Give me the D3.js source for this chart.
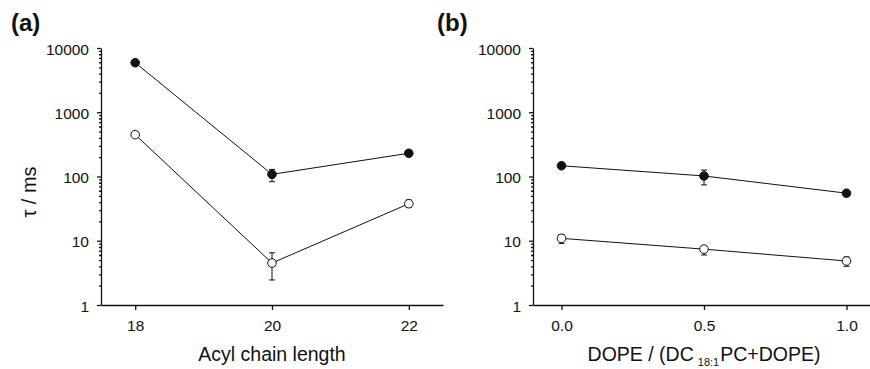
<!DOCTYPE html>
<html>
<head>
<meta charset="utf-8">
<script src="https://cdn.jsdelivr.net/npm/d3@7"></script>
<style>
  body { margin: 0; background: #fff; }
  svg text { font-family: "Liberation Sans", Arial, Helvetica, sans-serif; fill: #111; }
</style>
</head>
<body>
<svg id="chart" width="870" height="369"></svg>
<script>
// panel (a): acyl chain length
const chainLength = [18, 20, 22];
const chainFilled = [5900, 108, 230];
const chainFilledLo = [5500, 83, 215];
const chainFilledHi = [6300, 129, 245];
const chainOpen = [448, 4.5, 37.7];
const chainOpenLo = [430, 2.45, 33];
const chainOpenHi = [465, 6.5, 43];

// panel (b): DOPE fraction
const dopeFrac = [0.0, 0.5, 1.0];
const dopeFilled = [147, 102, 55];
const dopeFilledLo = [140, 74, 52];
const dopeFilledHi = [155, 126, 58];
const dopeOpen = [10.9, 7.4, 4.84];
const dopeOpenLo = [9.1, 6.0, 4.0];
const dopeOpenHi = [12.5, 8.3, 5.6];

const yMajor = [1, 10, 100, 1000, 10000];

const svg = d3.select('#chart');
const plotTop = 48, plotBottom = 305;

function drawPanel(opts) {
  const g = svg.append('g');
  const sx = d3.scaleLinear().domain(opts.domainX).range([opts.left, opts.left + 342]);
  const sy = d3.scaleLog().domain([1, 10000]).range([plotBottom, plotTop]);

  // minor log ticks
  const minor = [];
  yMajor.slice(0, -1).forEach(function(d) {
    for (let k = 2; k < 10; k++) minor.push(d * k);
  });
  g.append('g')
    .attr('transform', `translate(${opts.left},0)`)
    .call(d3.axisLeft(sy).tickValues(minor).tickSize(2).tickFormat('').tickSizeOuter(0))
    .call(s => s.select('.domain').remove());

  const yAxis = g.append('g')
    .attr('transform', `translate(${opts.left},0)`)
    .call(d3.axisLeft(sy).tickValues(yMajor).tickSize(4).tickSizeOuter(0).tickPadding(8)
      .tickFormat(d3.format('d')));
  yAxis.selectAll('text').style('font-size', '15.5px').attr('dy', '0.4em');

  const xAxis = g.append('g')
    .attr('transform', `translate(0,${plotBottom})`)
    .call(d3.axisBottom(sx).tickValues(opts.ticksX).tickSize(5).tickSizeOuter(0).tickPadding(10)
      .tickFormat(opts.fmt));
  xAxis.selectAll('text').style('font-size', '15.5px');
  g.selectAll('.domain, .tick line').attr('stroke', '#111').attr('stroke-width', 1.3);

  const line = d3.line().x(d => sx(d[0])).y(d => sy(d[1]));

  [[opts.filled, opts.filledLo, opts.filledHi, '#111'],
    [opts.open, opts.openLo, opts.openHi, '#fff']].forEach(function(s) {
    const pts = opts.x.map((x, i) => [x, s[0][i], s[1][i], s[2][i]]);
    g.append('path').datum(pts).attr('d', line)
      .attr('fill', 'none').attr('stroke', '#111').attr('stroke-width', 1);
    const eb = g.append('g').selectAll('g').data(pts).join('g')
      .attr('stroke', '#111').attr('stroke-width', 1);
    eb.append('line').attr('x1', d => sx(d[0])).attr('x2', d => sx(d[0]))
      .attr('y1', d => sy(d[2])).attr('y2', d => sy(d[3]));
    eb.append('line').attr('x1', d => sx(d[0]) - 3).attr('x2', d => sx(d[0]) + 3)
      .attr('y1', d => sy(d[2])).attr('y2', d => sy(d[2]));
    eb.append('line').attr('x1', d => sx(d[0]) - 3).attr('x2', d => sx(d[0]) + 3)
      .attr('y1', d => sy(d[3])).attr('y2', d => sy(d[3]));
    g.append('g').selectAll('circle').data(pts).join('circle')
      .attr('cx', d => sx(d[0])).attr('cy', d => sy(d[1]))
      .attr('r', 4.3).attr('fill', s[3]).attr('stroke', '#111').attr('stroke-width', 1);
  });

  g.append('text').attr('x', opts.labelX).attr('y', 31)
    .style('font-size', '24px').style('font-weight', 'bold').text(opts.label);
  return {g: g, sx: sx};
}

const pa = drawPanel({
  left: 101, domainX: [17.5, 22.5], ticksX: chainLength, fmt: d3.format('d'),
  x: chainLength, filled: chainFilled, filledLo: chainFilledLo, filledHi: chainFilledHi,
  open: chainOpen, openLo: chainOpenLo, openHi: chainOpenHi, label: '(a)', labelX: 11
});
const pb = drawPanel({
  left: 533, domainX: [-0.1, 1.1], ticksX: dopeFrac, fmt: d3.format('.1f'),
  x: dopeFrac, filled: dopeFilled, filledLo: dopeFilledLo, filledHi: dopeFilledHi,
  open: dopeOpen, openLo: dopeOpenLo, openHi: dopeOpenHi, label: '(b)', labelX: 437
});

// axis titles
svg.append('text')
  .attr('transform', 'translate(36,192) rotate(-90)')
  .attr('text-anchor', 'middle').style('font-size', '20px').text('τ / ms');

svg.append('text').attr('x', pa.sx(20)).attr('y', 361)
  .attr('text-anchor', 'middle').style('font-size', '19.5px').text('Acyl chain length');

const xt = svg.append('text').attr('x', pb.sx(0.5)).attr('y', 361)
  .attr('text-anchor', 'middle').style('font-size', '19.5px');
xt.append('tspan').text('DOPE / (DC');
xt.append('tspan').attr('dx', 4).attr('dy', 5).style('font-size', '11px').text('18:1');
xt.append('tspan').attr('dx', 1).attr('dy', -5).text('PC+DOPE)');
</script>
</body>
</html>
